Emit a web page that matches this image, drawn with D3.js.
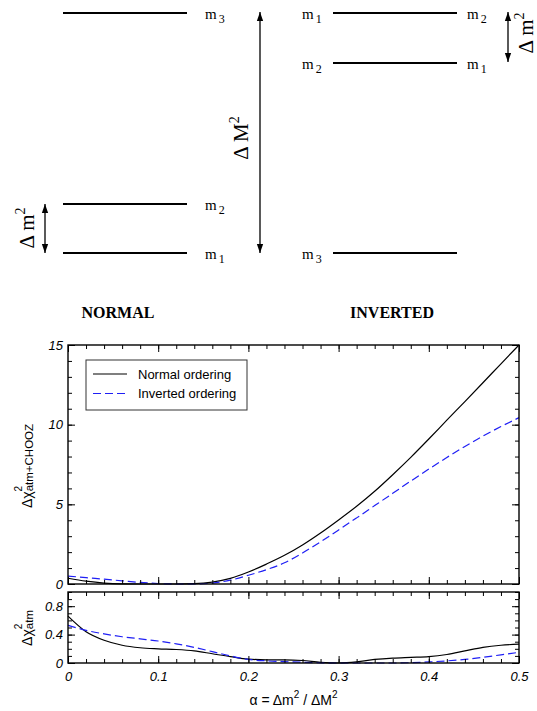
<!DOCTYPE html>
<html><head><meta charset="utf-8">
<script src="https://cdn.jsdelivr.net/npm/d3@7"></script>
<style>
body{margin:0;background:#fff}
svg{display:block}
</style>
</head><body>
<svg id="chart" width="537" height="711"></svg>
<script>
// alpha = Δm² / ΔM² sampling grid
const alpha = [0,0.02,0.04,0.06,0.08,0.10,0.12,0.14,0.16,0.18,0.20,0.22,0.24,0.26,0.28,0.30,0.32,0.34,0.36,0.38,0.40,0.42,0.44,0.46,0.48,0.50];
// Δχ² atm+CHOOZ
const chiNormal   = [0.36,0.18,0.06,0.01,0,0,0,0.02,0.12,0.35,0.75,1.25,1.8,2.45,3.2,4.02,4.88,5.82,6.86,7.95,9.1,10.28,11.45,12.63,13.82,15.0];
const chiInverted = [0.5,0.4,0.3,0.2,0.1,0.03,0,0,0.06,0.24,0.55,0.9,1.33,1.95,2.65,3.39,4.15,4.92,5.69,6.46,7.21,7.94,8.63,9.28,9.88,10.44];
// Δχ² atm only
const atmNormal   = [0.66,0.44,0.32,0.25,0.215,0.2,0.19,0.17,0.13,0.09,0.055,0.045,0.045,0.035,0.01,0,0.015,0.05,0.07,0.08,0.09,0.12,0.17,0.22,0.25,0.265];
const atmInverted = [0.53,0.46,0.41,0.37,0.34,0.31,0.27,0.22,0.16,0.1,0.05,0.03,0.02,0.01,0.003,0,0,0,0,0.005,0.015,0.03,0.05,0.08,0.115,0.15];

const seriesNames = ["Normal ordering","Inverted ordering"];
const xTickValues = [0,0.1,0.2,0.3,0.4,0.5];
const xMinorValues = d3.range(0,0.5001,0.02);
const yTopTicks = [0,5,10,15];
const yTopMinor = d3.range(0,15.01,1);
const yBotTicks = [0,0.4,0.8];
const yBotMinor = d3.range(0,1.001,0.1);

// mass levels (diagram)
const normalLevels = [{name:"3", y:13}, {name:"2", y:204}, {name:"1", y:253}];
const invertedLevels = [{left:"1", right:"2", y:13}, {left:"2", right:"1", y:63}, {left:"3", right:null, y:253}];

const svg = d3.select("#chart");
const serif = "'Liberation Serif','Times New Roman',Times,serif";
const sans = "'Liberation Sans',Arial,Helvetica,sans-serif";
const blue = "#1f1ff5";

// ---------- arrow markers ----------
const defs = svg.append("defs");
function marker(id, orient){
  defs.append("marker").attr("id", id)
    .attr("viewBox","0 0 10 10").attr("refX",10).attr("refY",5)
    .attr("markerWidth",9).attr("markerHeight",9).attr("markerUnits","userSpaceOnUse")
    .attr("orient", orient)
    .append("path").attr("d","M0,1.5 L10,5 L0,8.5 Z").attr("fill","#000");
}
marker("ahead","auto");
marker("atail","auto-start-reverse");

function dblArrow(x, y1, y2){
  svg.append("line").attr("x1",x).attr("x2",x).attr("y1",y1).attr("y2",y2)
    .attr("stroke","#000").attr("stroke-width",1.3)
    .attr("marker-start","url(#atail)").attr("marker-end","url(#ahead)");
}

function massLabel(x, y, sub){
  const t = svg.append("text").attr("x",x).attr("y",y+6)
    .attr("font-family",serif).attr("font-size",15);
  t.append("tspan").text("m");
  t.append("tspan").attr("dx",2).attr("dy",4).attr("font-size",12).text(sub);
}

function rotLabel(x, y, base, sup){
  const t = svg.append("text").attr("transform",`translate(${x},${y}) rotate(-90)`)
    .attr("text-anchor","middle").attr("font-family",serif).attr("font-size",21);
  t.append("tspan").text(base);
  t.append("tspan").attr("dy",-9).attr("font-size",14).text(sup);
}

// ---------- normal ordering ----------
normalLevels.forEach(d => {
  svg.append("line").attr("x1",63).attr("x2",187).attr("y1",d.y).attr("y2",d.y)
    .attr("stroke","#000").attr("stroke-width",2);
  massLabel(205, d.y, d.name);
});
dblArrow(45, 204, 253);
rotLabel(34, 228, "\u0394 m", "2");
dblArrow(260, 12, 253);
rotLabel(248, 138, "\u0394 M", "2");

// ---------- inverted ordering ----------
invertedLevels.forEach(d => {
  svg.append("line").attr("x1",333).attr("x2",457).attr("y1",d.y).attr("y2",d.y)
    .attr("stroke","#000").attr("stroke-width",2);
  massLabel(302, d.y, d.left);
  if (d.right) massLabel(467, d.y, d.right);
});
dblArrow(508, 12, 62);
rotLabel(533, 33, "\u0394 m", "2");

svg.append("text").attr("x",118).attr("y",318).attr("text-anchor","middle")
  .attr("font-family",serif).attr("font-weight","bold").attr("font-size",16).text("NORMAL");
svg.append("text").attr("x",392).attr("y",318).attr("text-anchor","middle")
  .attr("font-family",serif).attr("font-weight","bold").attr("font-size",16).text("INVERTED");

// ---------- plots ----------
const left = 68, right = 519;
const x = d3.scaleLinear().domain([0,0.5]).range([left,right]);
const yTop = d3.scaleLinear().domain([0,15]).range([584,345]);
const yBot = d3.scaleLinear().domain([0,1]).range([663,592]);

function styleAxis(g){
  g.select(".domain").remove();
  g.selectAll("line").attr("stroke","#000").attr("stroke-width",1);
  g.selectAll("text").attr("font-family",sans).attr("font-style","italic")
    .attr("font-size",13).attr("fill","#000");
}

function frame(y, majorY, minorY, labelX){
  const [y0,y1] = y.range();
  // minor ticks on four sides
  svg.append("g").attr("transform",`translate(0,${y0})`)
    .call(d3.axisBottom(x).tickValues(xMinorValues).tickSize(-4).tickFormat("")).call(styleAxis);
  svg.append("g").attr("transform",`translate(0,${y1})`)
    .call(d3.axisTop(x).tickValues(xMinorValues).tickSize(-4).tickFormat("")).call(styleAxis);
  svg.append("g").attr("transform",`translate(${left},0)`)
    .call(d3.axisLeft(y).tickValues(minorY).tickSize(-4).tickFormat("")).call(styleAxis);
  svg.append("g").attr("transform",`translate(${right},0)`)
    .call(d3.axisRight(y).tickValues(minorY).tickSize(-4).tickFormat("")).call(styleAxis);
  // major ticks
  const fmtY = d => d === 0 ? "0" : d3.format("~g")(d);
  svg.append("g").attr("transform",`translate(0,${y0})`)
    .call(d3.axisBottom(x).tickValues(xTickValues).tickSize(-7).tickPadding(9)
      .tickFormat(labelX ? (d => d === 0 ? "0" : d3.format("~g")(d)) : ""))
    .call(styleAxis);
  svg.append("g").attr("transform",`translate(0,${y1})`)
    .call(d3.axisTop(x).tickValues(xTickValues).tickSize(-7).tickFormat("")).call(styleAxis);
  svg.append("g").attr("transform",`translate(${left},0)`)
    .call(d3.axisLeft(y).tickValues(majorY).tickSize(-7).tickPadding(5).tickFormat(fmtY)).call(styleAxis);
  svg.append("g").attr("transform",`translate(${right},0)`)
    .call(d3.axisRight(y).tickValues(majorY).tickSize(-7).tickFormat("")).call(styleAxis);
  svg.append("rect").attr("x",left).attr("y",y1).attr("width",right-left).attr("height",y0-y1)
    .attr("fill","none").attr("stroke","#000").attr("stroke-width",1.4);
}

function curve(y, values, dashed){
  const line = d3.line().x((d,i) => x(alpha[i])).y(d => y(d)).curve(d3.curveMonotoneX);
  svg.append("path").datum(values).attr("d", line).attr("fill","none")
    .attr("stroke", dashed ? blue : "#000").attr("stroke-width", 1.2)
    .attr("stroke-dasharray", dashed ? "8,4" : null);
}

// upper panel
curve(yTop, chiNormal, false);
curve(yTop, chiInverted, true);
frame(yTop, yTopTicks, yTopMinor, false);

// lower panel
curve(yBot, atmNormal, false);
curve(yBot, atmInverted, true);
frame(yBot, yBotTicks, yBotMinor, true);

// legend
const lg = svg.append("g");
lg.append("rect").attr("x",86).attr("y",360).attr("width",161).attr("height",50)
  .attr("fill","#fff").attr("stroke","#333").attr("stroke-width",1);
seriesNames.forEach((name,i) => {
  const yy = 374 + i*19.5;
  lg.append("line").attr("x1",93).attr("x2",127).attr("y1",yy).attr("y2",yy)
    .attr("stroke", i ? blue : "#000").attr("stroke-width",1.2)
    .attr("stroke-dasharray", i ? "8,4" : null);
  lg.append("text").attr("x",138).attr("y",yy+4.5).attr("font-family",sans)
    .attr("font-size",13).text(name);
});

// axis titles
function chiTitle(cx, cy, sub){
  const t = svg.append("text").attr("transform",`translate(${cx},${cy}) rotate(-90)`)
    .attr("text-anchor","middle").attr("font-family",sans).attr("font-size",14);
  t.append("tspan").text("\u0394\u03c7");
  t.append("tspan").attr("font-size",10).attr("dy",-10).text("2");
  t.append("tspan").attr("font-size",11.5).attr("dx",-5.5).attr("dy",11).text(sub);
}
chiTitle(32, 466, "atm+CHOOZ");
chiTitle(32, 628, "atm");

const xt = svg.append("text").attr("x",(left+right)/2).attr("y",705).attr("text-anchor","middle")
  .attr("font-family",sans).attr("font-size",14);
xt.append("tspan").text("\u03b1 = \u0394m");
xt.append("tspan").attr("font-size",10).attr("dy",-7).text("2");
xt.append("tspan").attr("dy",7).text(" / \u0394M");
xt.append("tspan").attr("font-size",10).attr("dy",-7).text("2");
</script>
</body></html>
